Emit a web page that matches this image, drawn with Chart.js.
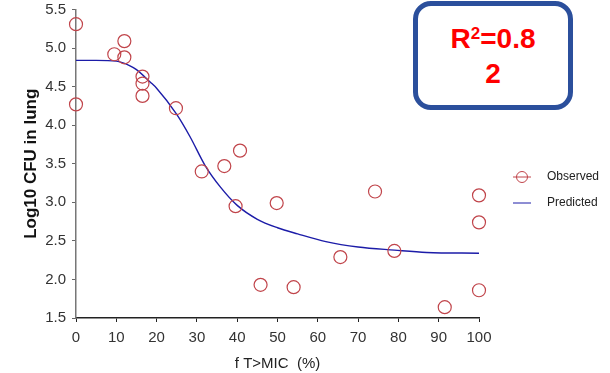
<!doctype html>
<html lang="en">
  <head>
    <meta charset="UTF-8" />
    <title>Log10 CFU vs fT>MIC</title>
    <script src="https://cdn.jsdelivr.net/npm/chart.js"></script>
    <style>
      body {
        margin: 0;
        padding: 0;
        background: #fff;
      }
      .wrap {
        position: relative;
        width: 610px;
        height: 373px;
      }
      .r2-box {
        position: absolute;
        left: 413px;
        top: 1px;
        width: 160px;
        height: 109px;
        border: 5px solid #2b4f9c;
        border-radius: 18px;
        background: #fff;
        color: #ff0000;
        font-family: 'Liberation Sans', Arial, sans-serif;
        font-weight: bold;
        font-size: 28px;
        line-height: 35px;
        text-align: center;
        padding-top: 15px;
        box-sizing: border-box;
      }
      .r2-box sup {
        font-size: 17px;
        line-height: 0;
        vertical-align: 9px;
      }
    </style>
  </head>
  <body>
    <div class="wrap">
      <canvas id="pkpd" width="610" height="373"></canvas>
      <div class="r2-box">R<sup>2</sup>=0.8<br />2</div>
    </div>

    <script>
      // observed lung burden per animal
      const obsX = [0, 0, 9.5, 12, 12, 16.5, 16.5, 16.5, 24.8, 31.2, 36.8, 40.7, 39.6, 49.8, 45.8, 54, 65.6, 74.2, 79, 91.5, 100, 100, 100];
      const obsY = [5.31, 4.27, 4.92, 5.09, 4.88, 4.63, 4.54, 4.38, 4.22, 3.4, 3.47, 3.67, 2.95, 2.99, 1.93, 1.9, 2.29, 3.14, 2.37, 1.64, 3.09, 2.74, 1.86];

      // fitted Emax curve
      const predX = [0, 5, 10, 13.4, 15, 18.4, 20, 25, 28.3, 32, 35.8, 40, 45, 50, 55, 62, 70, 79, 87, 100];
      const predY = [4.84, 4.84, 4.83, 4.77, 4.72, 4.56, 4.48, 4.14, 3.85, 3.48, 3.2, 2.96, 2.78, 2.67, 2.59, 2.49, 2.42, 2.38, 2.35, 2.34];

      const xTicks = [0, 10, 20, 30, 40, 50, 60, 70, 80, 90, 100];
      const yTicks = [1.5, 2.0, 2.5, 3.0, 3.5, 4.0, 4.5, 5.0, 5.5];

      const FONT = "'Liberation Sans', Arial, sans-serif";

      const toPoints = (xs, ys) => xs.map((x, i) => ({ x: x, y: ys[i] }));

      // legend drawn to the right of the plot
      const sideLegend = {
        id: 'sideLegend',
        afterDraw(chart) {
          const ctx = chart.ctx;
          const x0 = chart.chartArea.right + 34;
          ctx.save();
          chart.data.datasets.forEach((ds, i) => {
            const y = 177 + i * 26;
            ctx.strokeStyle = ds.borderColor;
            ctx.lineWidth = 1;
            ctx.beginPath();
            ctx.moveTo(x0, y);
            ctx.lineTo(x0 + 18, y);
            ctx.stroke();
            if (ds.showLine === false) {
              ctx.beginPath();
              ctx.arc(x0 + 9, y, 5.5, 0, Math.PI * 2);
              ctx.stroke();
            }
            ctx.fillStyle = '#222';
            ctx.font = '12px ' + FONT;
            ctx.textBaseline = 'middle';
            ctx.fillText(ds.label, x0 + 34, y);
          });
          ctx.restore();
        },
      };

      const ctx = document.getElementById('pkpd').getContext('2d');

      new Chart(ctx, {
        type: 'scatter',
        data: {
          datasets: [
            {
              label: 'Observed',
              data: toPoints(obsX, obsY),
              showLine: false,
              pointStyle: 'circle',
              pointRadius: 6.5,
              pointBorderWidth: 1.2,
              borderColor: '#c0444a',
              backgroundColor: 'rgba(0,0,0,0)',
              clip: false,
            },
            {
              label: 'Predicted',
              data: toPoints(predX, predY),
              showLine: true,
              pointRadius: 0,
              borderWidth: 1.4,
              borderColor: '#1c1ca8',
              cubicInterpolationMode: 'monotone',
              clip: false,
            },
          ],
        },
        options: {
          responsive: false,
          animation: false,
          layout: {
            padding: { top: 9.5, right: 131, left: 0, bottom: 0 },
          },
          plugins: {
            legend: { display: false },
            tooltip: { enabled: false },
          },
          scales: {
            x: {
              type: 'linear',
              min: 0,
              max: 100,
              afterFit(scale) {
                scale.height = 55;
              },
              afterBuildTicks(scale) {
                scale.ticks = xTicks.map((v) => ({ value: v }));
              },
              grid: {
                drawOnChartArea: false,
                tickLength: 4,
                color: '#222',
              },
              border: { color: '#222', width: 1.5 },
              ticks: {
                color: '#333',
                font: { family: FONT, size: 15 },
                padding: 7,
                maxRotation: 0,
              },
              title: {
                display: true,
                text: 'f T>MIC  (%)',
                color: '#222',
                font: { family: FONT, size: 15 },
                padding: { top: 2, bottom: 0 },
              },
            },
            y: {
              type: 'linear',
              min: 1.5,
              max: 5.5,
              afterFit(scale) {
                scale.width = 76;
                scale.paddingTop = 0;
                scale.paddingBottom = 0;
              },
              afterBuildTicks(scale) {
                scale.ticks = yTicks.map((v) => ({ value: v }));
              },
              grid: {
                drawOnChartArea: false,
                tickLength: 4,
                color: '#666',
              },
              border: { color: '#777', width: 1.5 },
              ticks: {
                color: '#333',
                font: { family: FONT, size: 15 },
                padding: 6,
                callback: (v) => v.toFixed(1),
              },
              title: {
                display: true,
                text: 'Log10 CFU in lung',
                color: '#111',
                font: { family: FONT, size: 17, weight: 'bold' },
                padding: { top: 21, bottom: 0 },
              },
            },
          },
        },
        plugins: [sideLegend],
      });
    </script>
  </body>
</html>
